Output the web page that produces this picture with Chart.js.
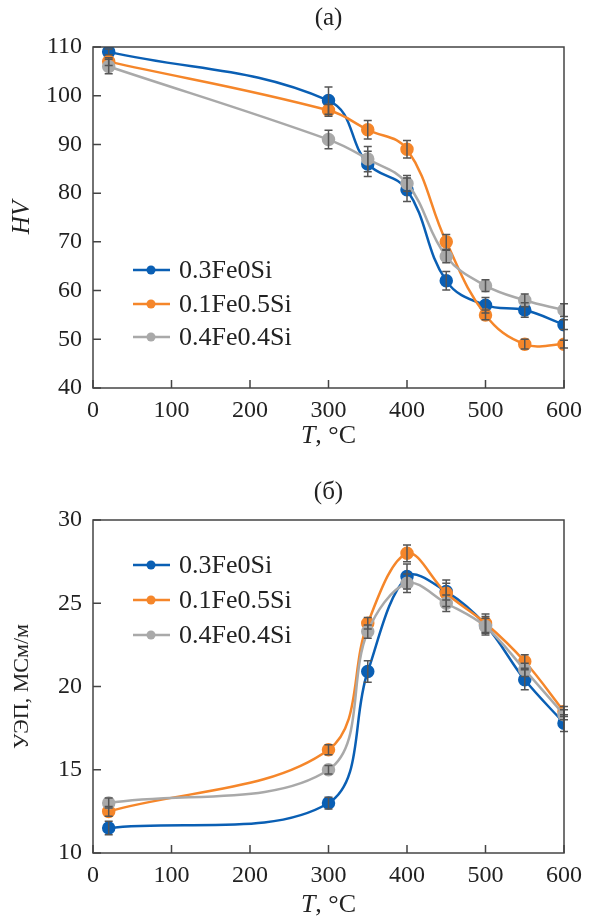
<!DOCTYPE html>
<html><head><meta charset="utf-8">
<script src="https://cdn.jsdelivr.net/npm/chart.js@4.4.0/dist/chart.umd.min.js"></script>
<style>
body{margin:0;background:#fff;width:590px;height:920px;overflow:hidden}
.box{position:absolute;left:0;width:590px;height:460px}
</style></head><body>
<div class="box" style="top:0"><canvas id="c1" width="590" height="460"></canvas></div>
<div class="box" style="top:460px"><canvas id="c2" width="590" height="460"></canvas></div>
<script>
// ---- data ----
const temps = [20, 300, 350, 400, 450, 500, 550, 600];
const seriesNames = ['0.3Fe0Si', '0.1Fe0.5Si', '0.4Fe0.4Si'];
const xTicks = [0, 100, 200, 300, 400, 500, 600];

// (a) hardness HV
const hvFe03 = [109, 99, 86, 80.7, 62, 57, 56, 53];
const hvFe01 = [107, 97, 93, 89, 70, 55, 49, 49];
const hvFe04 = [106, 91, 87, 82, 67, 61, 58, 56];
const hvErrFe03 = [0.6, 2.8, 2.6, 2.4, 1.9, 1.6, 1.5, 1.0];
const hvErrFe01 = [0.8, 1.2, 1.9, 1.8, 1.5, 1.0, 1.0, 0.8];
const hvErrFe04 = [1.5, 1.9, 2.6, 1.6, 1.3, 1.2, 1.3, 1.3];
const hvTicks = [40, 50, 60, 70, 80, 90, 100, 110];

// (б) electrical conductivity
const ecFe03 = [11.5, 13.0, 20.9, 26.6, 25.7, 23.7, 20.4, 17.8];
const ecFe01 = [12.5, 16.2, 23.8, 28.0, 25.6, 23.8, 21.5, 18.5];
const ecFe04 = [13.0, 15.0, 23.3, 26.2, 25.0, 23.6, 21.0, 18.3];
const ecErrFe03 = [0.4, 0.35, 0.65, 0.75, 0.5, 0.5, 0.6, 0.5];
const ecErrFe01 = [0.3, 0.3, 0.35, 0.5, 0.8, 0.55, 0.4, 0.3];
const ecErrFe04 = [0.3, 0.25, 0.4, 0.55, 0.5, 0.5, 0.4, 0.3];
const ecTicks = [10, 15, 20, 25, 30];

const colors = ['#0a5fb4', '#f5862a', '#a9a9a9'];
const FONT = "'Liberation Serif', 'DejaVu Serif', serif";
Chart.defaults.font.family = FONT;
Chart.defaults.font.size = 24;
Chart.defaults.color = '#222';

const deco = {
  id: 'deco',
  afterDatasetsDraw(chart, args, o) {
    const ctx = chart.ctx, ys = chart.scales.y;
    ctx.save();
    ctx.strokeStyle = '#555'; ctx.lineWidth = 1.5;
    chart.data.datasets.forEach((ds, i) => {
      const meta = chart.getDatasetMeta(i);
      const err = o.errors[i];
      meta.data.forEach((pt, j) => {
        const v = ds.data[j].y, e = err[j];
        const y1 = ys.getPixelForValue(v + e), y2 = ys.getPixelForValue(v - e);
        const x = pt.x;
        ctx.beginPath();
        ctx.moveTo(x, y1); ctx.lineTo(x, y2);
        ctx.moveTo(x - 4, y1); ctx.lineTo(x + 4, y1);
        ctx.moveTo(x - 4, y2); ctx.lineTo(x + 4, y2);
        ctx.stroke();
      });
    });
    ctx.restore();
  },
  afterDraw(chart, args, o) {
    const ctx = chart.ctx, a = chart.chartArea;
    const xs = chart.scales.x, ys = chart.scales.y;
    ctx.save();
    // frame
    ctx.strokeStyle = '#444'; ctx.lineWidth = 1.5;
    ctx.strokeRect(a.left, a.top, a.right - a.left, a.bottom - a.top);
    // inward ticks
    ctx.beginPath();
    xTicks.forEach(t => { const x = xs.getPixelForValue(t); ctx.moveTo(x, a.bottom); ctx.lineTo(x, a.bottom - 8); });
    o.yTicks.forEach(t => { const y = ys.getPixelForValue(t); ctx.moveTo(a.left, y); ctx.lineTo(a.left + 8, y); });
    ctx.stroke();
    // title
    ctx.fillStyle = '#222';
    ctx.textAlign = 'center'; ctx.textBaseline = 'middle';
    ctx.font = '25px ' + FONT;
    ctx.fillText(o.title, (a.left + a.right) / 2, o.titleY);
    // x title: italic T + ", °C"
    const cx = (a.left + a.right) / 2;
    ctx.font = 'italic 26px ' + FONT;
    const wT = ctx.measureText('T').width;
    ctx.font = '26px ' + FONT;
    const wR = ctx.measureText(', °C').width;
    const sx = cx - (wT + wR) / 2;
    ctx.textAlign = 'left';
    ctx.font = 'italic 26px ' + FONT;
    ctx.fillText('T', sx, o.xTitleY);
    ctx.font = '26px ' + FONT;
    ctx.fillText(', °C', sx + wT, o.xTitleY);
    // y title
    ctx.save();
    ctx.translate(22, (a.top + a.bottom) / 2);
    ctx.rotate(-Math.PI / 2);
    ctx.textAlign = 'center';
    ctx.font = (o.yItalic ? 'italic ' : '') + o.ySize + 'px ' + FONT;
    ctx.fillText(o.yTitle, 0, 0);
    ctx.restore();
    // legend
    ctx.font = '26px ' + FONT;
    ctx.textAlign = 'left';
    chart.data.datasets.forEach((ds, i) => {
      const y = o.legendY[i];
      ctx.strokeStyle = ds.borderColor; ctx.lineWidth = 2.5;
      ctx.beginPath(); ctx.moveTo(133, y); ctx.lineTo(170, y); ctx.stroke();
      ctx.fillStyle = ds.borderColor;
      ctx.beginPath(); ctx.arc(151, y, 4.5, 0, Math.PI * 2); ctx.fill();
      ctx.fillStyle = '#222';
      ctx.fillText(ds.label, 179, y + 1);
    });
    ctx.restore();
  }
};

function makeChart(id, series, errs, yMin, yMax, yStep, yTicks, tension, opts) {
  const order = [2, 1, 0];
  const datasets = series.map((s, i) => ({
    label: seriesNames[i],
    data: temps.map((t, j) => ({ x: t, y: s[j] })),
    borderColor: colors[i], backgroundColor: colors[i],
    borderWidth: 2.5, pointRadius: 5.5, pointHoverRadius: 5.5,
    tension: tension, order: order[i]
  }));
  return new Chart(document.getElementById(id), {
    type: 'line',
    data: { datasets },
    plugins: [deco],
    options: {
      responsive: false, animation: false,
      layout: { padding: { top: opts.top, right: 22, left: 0, bottom: 0 } },
      plugins: {
        legend: { display: false }, tooltip: { enabled: false },
        deco: Object.assign({ errors: errs, yTicks }, opts)
      },
      scales: {
        x: {
          type: 'linear', min: 0, max: 600,
          grid: { display: false, drawTicks: false },
          border: { display: false },
          ticks: { stepSize: 100, padding: 8, color: '#222', font: { size: 24 } },
          afterFit: s => { s.height = opts.xH; }
        },
        y: {
          min: yMin, max: yMax,
          grid: { display: false, drawTicks: false },
          border: { display: false },
          ticks: { stepSize: yStep, padding: 11, color: '#222', font: { size: 24 } },
          afterFit: s => { s.width = 93; }
        }
      }
    }
  });
}

makeChart('c1', [hvFe03, hvFe01, hvFe04], [hvErrFe03, hvErrFe01, hvErrFe04], 40, 110, 10, hvTicks, 0.4,
  { top: 47, xH: 72, title: '(a)', titleY: 18, xTitleY: 436, yTitle: 'HV', ySize: 25, yItalic: true, legendY: [270, 304, 337] });
makeChart('c2', [ecFe03, ecFe01, ecFe04], [ecErrFe03, ecErrFe01, ecErrFe04], 10, 30, 5, ecTicks, 0.35,
  { top: 60, xH: 67, title: '(б)', titleY: 32, xTitleY: 445, yTitle: 'УЭП, МСм/м', ySize: 22, yItalic: false, legendY: [105, 140, 175] });
</script>
</body></html>
